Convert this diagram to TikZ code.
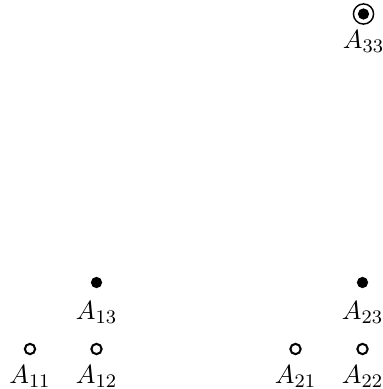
\documentclass[tikz,border=0pt]{standalone}
\begin{document}
\begin{tikzpicture}[x=0.4167pt,y=-0.4167pt,
  opendot/.style={circle,draw,line width=0.85pt,minimum size=4.3pt,inner sep=0pt},
  fulldot/.style={circle,fill,minimum size=4.7pt,inner sep=0pt},
  ringdot/.style={circle,draw,line width=0.6pt,minimum size=8.4pt,inner sep=0pt},
  lbl/.style={anchor=north,inner sep=0pt,font=\fontsize{10.8}{13}\selectfont}]
\useasboundingbox (0,0) rectangle (382,389);
\node[opendot] (p11) at (30,349) {};
\node[opendot] (p12) at (96.5,349) {};
\node[fulldot] (p13) at (96.5,282.5) {};
\node[opendot] (p21) at (295.5,349) {};
\node[opendot] (p22) at (362.5,349) {};
\node[fulldot] (p23) at (362.5,282.5) {};
\node[ringdot] (p33) at (363.5,14) {};
\node[fulldot] (p33c) at (p33.center) {};
\node[lbl] (l11) at ([yshift=-6.8pt]p11.center) {$A_{11}$};
\node[lbl] (l12) at ([yshift=-6.8pt]p12.center) {$A_{12}$};
\node[lbl] (l13) at ([yshift=-7.6pt]p13.center) {$A_{13}$};
\node[lbl] (l21) at ([yshift=-6.8pt]p21.center) {$A_{21}$};
\node[lbl] (l22) at ([yshift=-6.8pt]p22.center) {$A_{22}$};
\node[lbl] (l23) at ([yshift=-7.6pt]p23.center) {$A_{23}$};
\node[lbl] (l33) at ([yshift=-6.9pt]p33.center) {$A_{33}$};
\end{tikzpicture}
\end{document}
